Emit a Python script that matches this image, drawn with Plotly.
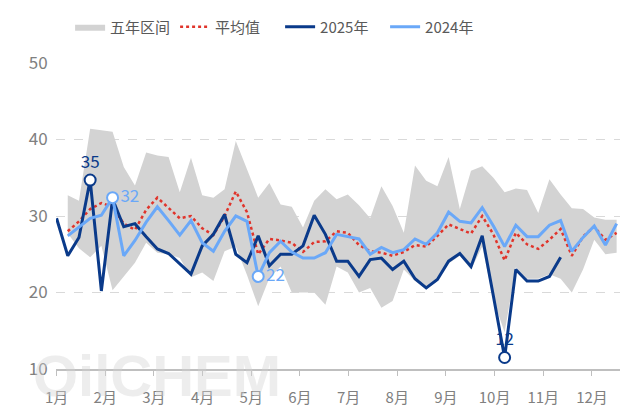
import plotly.graph_objects as go

# weekly data, week 1 = first week of January
months = ["1月", "2月", "3月", "4月", "5月", "6月", "7月", "8月", "9月", "10月", "11月", "12月"]

weeks_2025 = list(range(1, 47))
y2025 = [29.7, 24.8, 27.2, 34.7, 20.2, 32.2, 28.6, 29.0, 27.3, 25.7,
         25.1, 23.7, 22.4, 26.1, 27.6, 30.2, 25.0, 23.9, 27.4, 23.5,
         25.0, 25.0, 26.1, 30.1, 27.6, 24.1, 24.1, 22.1, 24.3, 24.5,
         23.0, 24.1, 21.8, 20.6, 21.7, 24.1, 25.1, 23.4, 27.4, 19.5,
         11.5, 23.0, 21.5, 21.5, 22.1, 24.6]

weeks = list(range(2, 52))
y2024 = [27.4, 28.6, 29.7, 30.1, 32.4, 24.8, 26.8, 29.2, 31.2, 29.4,
         27.5, 29.4, 26.5, 25.4, 28.0, 30.0, 29.3, 22.1, 25.2, 26.7,
         25.3, 24.5, 24.5, 25.2, 27.6, 27.3, 27.0, 25.0, 25.9, 25.2,
         25.6, 27.0, 26.3, 27.8, 30.5, 29.3, 29.1, 31.1, 28.7, 26.0,
         28.8, 27.3, 27.3, 28.8, 29.4, 25.4, 27.2, 28.7, 26.2, 29.0]
avg = [28.0, 29.3, 30.9, 31.7, 31.2, 29.0, 28.2, 30.8, 32.4, 31.0,
       29.7, 30.0, 28.4, 27.5, 30.0, 33.2, 30.5, 25.0, 27.0, 26.8,
       26.5, 25.3, 26.6, 26.7, 28.0, 27.8, 26.2, 25.4, 25.2, 24.8,
       25.3, 26.2, 26.0, 27.4, 28.9, 28.3, 27.7, 30.0, 27.6, 24.2,
       27.8, 26.3, 25.7, 26.9, 28.3, 24.8, 27.3, 28.6, 26.9, 27.8]
band_max = [32.7, 32.0, 41.4, 41.2, 41.0, 36.4, 34.0, 38.3, 37.9, 37.7,
            33.1, 37.6, 32.7, 32.4, 33.5, 39.8, 36.1, 32.4, 34.3, 31.5,
            31.2, 28.5, 32.0, 33.5, 32.2, 32.8, 31.4, 29.7, 33.9, 31.3,
            27.8, 36.6, 34.6, 33.9, 37.7, 30.9, 35.9, 36.5, 35.0, 33.1,
            33.6, 33.4, 30.4, 34.8, 32.8, 31.0, 30.9, 29.8, 29.5, 29.5]
band_min = [27.7, 25.8, 24.6, 26.1, 20.3, 22.1, 23.9, 26.5, 25.2, 25.0,
            24.5, 22.0, 22.6, 21.5, 25.4, 26.0, 22.3, 18.2, 21.9, 23.4,
            20.0, 20.0, 20.0, 18.4, 23.4, 22.6, 20.0, 20.6, 18.0, 18.9,
            23.0, 21.5, 20.4, 21.5, 23.8, 24.8, 23.0, 26.0, 19.0, 14.8,
            23.3, 21.8, 21.8, 22.4, 21.8, 20.0, 23.0, 26.9, 25.0, 25.2]

NAVY = "#0A3A8A"
LIGHT = "#6AA8F8"
RED = "#E0342B"
GREY = "#D3D3D3"
FONT = "Noto Sans CJK SC"

fig = go.Figure()

fig.add_trace(go.Scatter(x=weeks, y=band_min, mode="lines", line=dict(width=0, color=GREY),
                         showlegend=False, hoverinfo="skip"))
fig.add_trace(go.Scatter(x=weeks, y=band_max, mode="lines", line=dict(width=0, color=GREY),
                         fill="tonexty", fillcolor=GREY, name="五年区间"))
fig.add_trace(go.Scatter(x=weeks, y=avg, mode="lines", name="平均值",
                         line=dict(color=RED, width=2.5, dash="dot")))
fig.add_trace(go.Scatter(x=weeks_2025, y=y2025, mode="lines", name="2025年",
                         line=dict(color=NAVY, width=3)))
fig.add_trace(go.Scatter(x=weeks, y=y2024, mode="lines", name="2024年",
                         line=dict(color=LIGHT, width=3)))

# highlighted points
i_max = y2025.index(max(y2025))
i_min = y2025.index(min(y2025))
fig.add_trace(go.Scatter(x=[weeks_2025[i_max], weeks_2025[i_min]], y=[y2025[i_max], y2025[i_min]],
                         mode="markers+text", text=[f"{y2025[i_max]:.0f}", f"{y2025[i_min]:.0f}"],
                         textposition="top center", textfont=dict(color=NAVY, size=17, family=FONT),
                         marker=dict(size=11, color="white", line=dict(color=NAVY, width=2)),
                         showlegend=False, cliponaxis=False))
j_max = y2024.index(max(y2024))
j_min = y2024.index(min(y2024))
fig.add_trace(go.Scatter(x=[weeks[j_max], weeks[j_min]], y=[y2024[j_max], y2024[j_min]],
                         mode="markers+text", text=[f"{y2024[j_max]:.0f}", f"{y2024[j_min]:.0f}"],
                         textposition="middle right", textfont=dict(color=LIGHT, size=17, family=FONT),
                         marker=dict(size=11, color="white", line=dict(color=LIGHT, width=2)),
                         showlegend=False, cliponaxis=False))

month_pos = [1 + m * 365 / 84 for m in range(12)]

# page has an 8px body margin, so the figure is drawn 8px smaller
fig.update_layout(
    width=626, height=406,
    margin=dict(l=48, r=14, t=55, b=45, autoexpand=False),
    paper_bgcolor="white", plot_bgcolor="white",
    font=dict(family=FONT, color="#808080", size=15),
    legend=dict(orientation="h", x=0.025, y=1.118, xanchor="left", yanchor="middle",
                traceorder="normal", font=dict(size=15, color="#595959"),
                itemwidth=30, entrywidth=60, tracegroupgap=0),
    showlegend=True,
)
fig.update_xaxes(range=[0.95, 51.3], tickvals=month_pos, ticktext=months,
                 showgrid=False, zeroline=False, showline=True, linecolor="#BFBFBF", linewidth=1.5,
                 ticks="outside", ticklen=5, tickcolor="#BFBFBF", ticklabelstandoff=9,
                 tickfont=dict(size=15, color="#808080"))
fig.update_yaxes(range=[10, 50], tickvals=[10, 20, 30, 40, 50], showgrid=True,
                 gridcolor="#D9D9D9", griddash="dash", gridwidth=1, zeroline=False, showline=False,
                 tickfont=dict(size=17, color="#808080"), ticks="outside", ticklen=4,
                 tickcolor="rgba(0,0,0,0)")

fig.add_shape(type="line", xref="paper", yref="paper", x0=-0.07, x1=1.03, y0=1.19, y1=1.19,
              line=dict(color="#BFBFBF", width=2.5))
fig.add_annotation(text="<b>OilCHEM</b>", xref="paper", yref="paper", x=-0.045, y=-0.02,
                   xanchor="left", yanchor="middle", showarrow=False,
                   font=dict(size=58, color="rgba(210,210,210,0.4)", family="Arial"))

fig.write_html("out.html")
